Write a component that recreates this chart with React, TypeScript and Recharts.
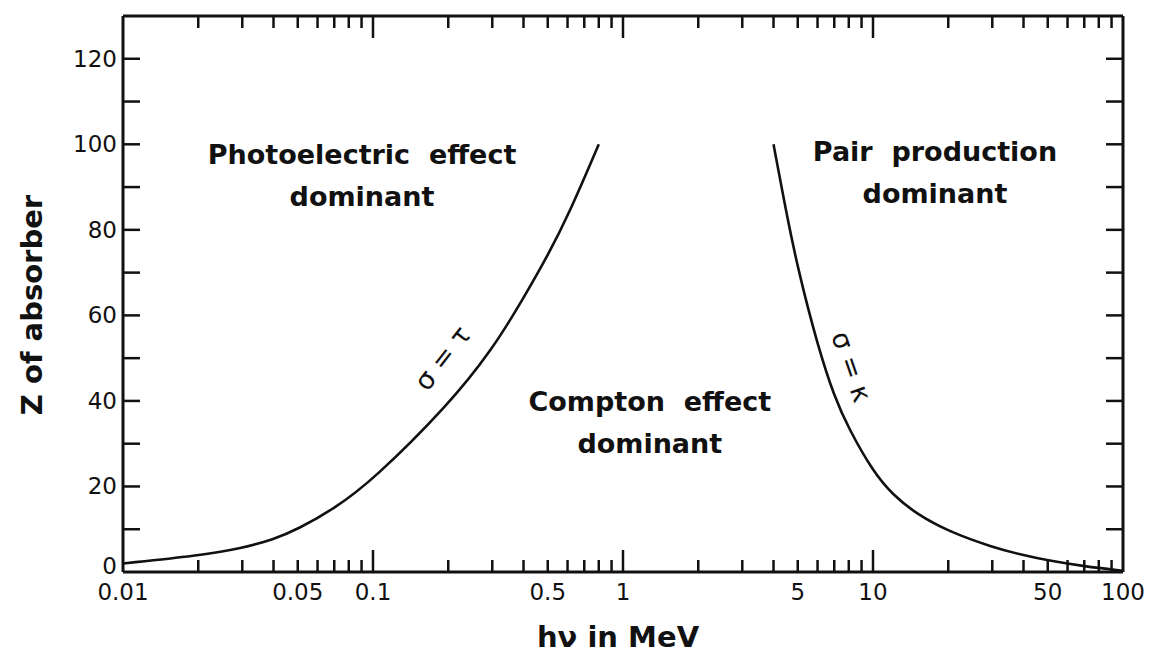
import { LineChart, Line, XAxis, YAxis, ReferenceLine, ReferenceDot } from "recharts";

// sigma = tau boundary (photoelectric / Compton)
const photoEnergy = [0.01, 0.02, 0.03, 0.04, 0.05, 0.07, 0.1, 0.2, 0.3, 0.4, 0.5, 0.6, 0.8];
const photoZ = [2, 3.8, 5.6, 7.6, 10, 14.8, 21.5, 39, 52, 64, 74, 83, 100];

// sigma = kappa boundary (Compton / pair production)
const pairEnergy = [4, 4.5, 5, 6, 7, 8, 10, 12, 15, 20, 30, 40, 50, 70, 100];
const pairZ = [100, 84, 71, 53, 41, 33.5, 23.5, 18, 13.5, 9.5, 5.8, 3.9, 2.7, 1.3, 0.3];

const xTicks = [
  0.01, 0.02, 0.03, 0.04, 0.05, 0.06, 0.07, 0.08, 0.09,
  0.1, 0.2, 0.3, 0.4, 0.5, 0.6, 0.7, 0.8, 0.9,
  1, 2, 3, 4, 5, 6, 7, 8, 9,
  10, 20, 30, 40, 50, 60, 70, 80, 90, 100,
];
const xLabels = ["0.01", "0.05", "0.1", "0.5", "1", "5", "10", "50", "100"];
const yTicks = [0, 10, 20, 30, 40, 50, 60, 70, 80, 90, 100, 110, 120];
const yLabels = [0, 20, 40, 60, 80, 100, 120];

const photoData = photoEnergy.map((e, i) => ({ e, z: photoZ[i] }));
const pairData = pairEnergy.map((e, i) => ({ e, z: pairZ[i] }));

const W = 1155;
const H = 660;
const PLOT_W = 1000;
const PLOT_H = 556;
const INK = "#111";

const isDecade = (v: number) => Math.abs(Math.log10(v) - Math.round(Math.log10(v))) < 1e-6;

function XTick({ x, y, payload }: any) {
  const v = payload.value;
  const len = isDecade(v) ? 22 : 12;
  const inner = v > 0.011 && v < 99;
  const label = xLabels.find(l => Math.abs(parseFloat(l) - v) < 1e-9);
  return (
    <g>
      {inner && <line x1={x} y1={y} x2={x} y2={y - len} stroke={INK} strokeWidth={2.5} />}
      {inner && <line x1={x} y1={y - PLOT_H} x2={x} y2={y - PLOT_H + len} stroke={INK} strokeWidth={2.5} />}
      {label && (
        <text x={x} y={y + 28} textAnchor="middle" fill={INK} fontSize={23} fontFamily="DejaVu Sans">
          {label}
        </text>
      )}
    </g>
  );
}

function YTick({ x, y, payload }: any) {
  const v = payload.value;
  const inner = v > 0;
  const labelled = yLabels.includes(v);
  return (
    <g>
      {inner && <line x1={x} y1={y} x2={x + 17} y2={y} stroke={INK} strokeWidth={2.5} />}
      {inner && <line x1={x + PLOT_W} y1={y} x2={x + PLOT_W - 17} y2={y} stroke={INK} strokeWidth={2.5} />}
      {labelled && (
        <text x={x - 6} y={v === 0 ? y - 6 : y} dy={8} textAnchor="end" fill={INK} fontSize={23} fontFamily="DejaVu Sans">
          {v}
        </text>
      )}
    </g>
  );
}

const boldText = { fill: INK, fontSize: 27, fontWeight: 700, fontFamily: "DejaVu Sans" };

const regionLabel = (lines: string[]) => (props: any) => {
  const vb = props.viewBox || {};
  const cx = (vb.x ?? 0) + (vb.width ?? 0) / 2;
  const cy = (vb.y ?? 0) + (vb.height ?? 0) / 2;
  const gap = 42;
  const top = cy - ((lines.length - 1) * gap) / 2;
  return (
    <g>
      {lines.map((t, i) => (
        <text key={i} x={cx} y={top + i * gap} dy={10} textAnchor="middle" style={{ ...boldText, whiteSpace: "pre" }}>
          {t}
        </text>
      ))}
    </g>
  );
};

const curveLabel = (text: string, angle: number) => (props: any) => {
  const vb = props.viewBox || {};
  const cx = (vb.x ?? 0) + (vb.width ?? 0) / 2;
  const cy = (vb.y ?? 0) + (vb.height ?? 0) / 2;
  return (
    <text
      x={cx}
      y={cy}
      dy={9}
      textAnchor="middle"
      transform={`rotate(${angle} ${cx} ${cy})`}
      fill={INK}
      fontSize={27}
      fontFamily="DejaVu Sans"
      style={{ whiteSpace: "pre" }}
    >
      {text}
    </text>
  );
};

export default function App() {
  return (
    <div style={{ position: "absolute", left: 0, top: 0, width: W, height: H, background: "#fff" }}>
      <LineChart width={W} height={H} margin={{ top: 16, right: 32, bottom: 28, left: 0 }}>
        <XAxis
          type="number"
          dataKey="e"
          scale="log"
          domain={[0.01, 100]}
          allowDataOverflow
          ticks={xTicks}
          interval={0}
          tick={<XTick />}
          tickLine={false}
          tickSize={0}
          tickMargin={0}
          height={60}
          axisLine={{ stroke: INK, strokeWidth: 3 }}
          label={(p: any) => {
            const vb = p.viewBox || {};
            const cx = (vb.x ?? 123) + (vb.width ?? 1000) / 2 - 5;
            return (
              <text x={cx} y={647} textAnchor="middle" style={{ ...boldText, fontSize: 29 }}>
                hν in MeV
              </text>
            );
          }}
        />
        <YAxis
          type="number"
          dataKey="z"
          domain={[0, 130]}
          allowDataOverflow
          ticks={yTicks}
          interval={0}
          tick={<YTick />}
          tickLine={false}
          tickSize={0}
          tickMargin={0}
          width={123}
          axisLine={{ stroke: INK, strokeWidth: 3 }}
          label={() => (
            <text
              x={32}
              y={305}
              textAnchor="middle"
              dominantBaseline="central"
              transform="rotate(-90 32 305)"
              style={{ ...boldText, fontSize: 29 }}
            >
              Z of absorber
            </text>
          )}
        />
        <ReferenceLine y={130} stroke={INK} strokeWidth={3} />
        <ReferenceLine x={100} stroke={INK} strokeWidth={3} />
        <Line
          data={photoData}
          dataKey="z"
          type="basis"
          stroke={INK}
          strokeWidth={2.6}
          dot={false}
          isAnimationActive={false}
        />
        <Line
          data={pairData}
          dataKey="z"
          type="basis"
          stroke={INK}
          strokeWidth={2.6}
          dot={false}
          isAnimationActive={false}
        />
        <ReferenceDot x={0.0904} y={92.8} r={0} fill="none" stroke="none" label={regionLabel(["Photoelectric  effect", "dominant"])} />
        <ReferenceDot x={1.28} y={35} r={0} fill="none" stroke="none" label={regionLabel(["Compton  effect", "dominant"])} />
        <ReferenceDot x={17.7} y={93.5} r={0} fill="none" stroke="none" label={regionLabel(["Pair  production", "dominant"])} />
        <ReferenceDot x={0.19} y={50} r={0} fill="none" stroke="none" label={curveLabel("σ = τ", -52)} />
        <ReferenceDot x={8.2} y={48} r={0} fill="none" stroke="none" label={curveLabel("σ = κ", 71)} />
      </LineChart>
    </div>
  );
}
